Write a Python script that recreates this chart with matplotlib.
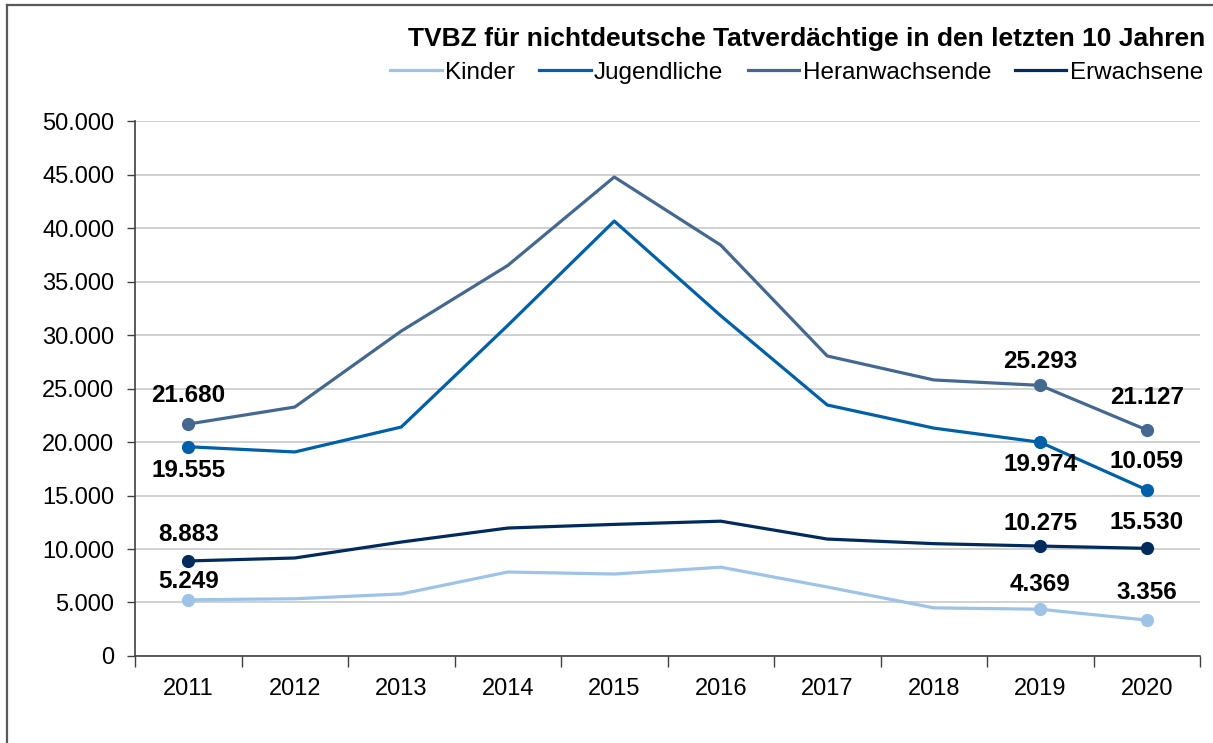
import matplotlib
matplotlib.use("Agg")
import matplotlib.pyplot as plt
from matplotlib.ticker import FuncFormatter, FixedLocator
from matplotlib.lines import Line2D

plt.rcParams['font.family'] = ['Liberation Sans', 'DejaVu Sans']

years = ["2011", "2012", "2013", "2014", "2015", "2016", "2017", "2018", "2019", "2020"]
kinder = [5249, 5350, 5800, 7850, 7660, 8300, 6450, 4500, 4369, 3356]
jugendliche = [19555, 19070, 21400, 30900, 40650, 31800, 23460, 21300, 19974, 15530]
heranwachsende = [21680, 23270, 30370, 36500, 44770, 38400, 28040, 25800, 25293, 21127]
erwachsene = [8883, 9160, 10650, 11960, 12300, 12600, 10930, 10500, 10275, 10059]

series_names = ["Kinder", "Jugendliche", "Heranwachsende", "Erwachsene"]
series_values = [kinder, jugendliche, heranwachsende, erwachsene]
colors = ["#9DC3E6", "#0060A8", "#44688F", "#002B5C"]

# data labels as printed in the chart: (series index, year index, text)
labels = [
    (2, 0, "21.680"), (1, 0, "19.555"), (3, 0, "8.883"), (0, 0, "5.249"),
    (2, 8, "25.293"), (1, 8, "19.974"), (3, 8, "10.275"), (0, 8, "4.369"),
    (2, 9, "21.127"), (1, 9, "10.059"), (3, 9, "15.530"), (0, 9, "3.356"),
]
# vertical label offsets in pixels (style, positive = above the point)
label_offsets_px = [29, -24, 26, 18, 24, -22, 23, 25, 32, 28, 26, 28]
marker_idx = [0, 8, 9]

fig = plt.figure(figsize=(12.13, 7.43), dpi=100)
# figure frame: left and top edges only visible
fig.add_artist(Line2D([0.0055, 0.0055], [0.0, 0.9935], transform=fig.transFigure,
                      color="#595959", linewidth=1.6))
fig.add_artist(Line2D([0.0055, 1.0], [0.9935, 0.9935], transform=fig.transFigure,
                      color="#595959", linewidth=1.6))

ax = fig.add_axes([0.1113, 0.1171, 0.878, 0.72])

x = list(range(len(years)))
handles = []
for name, vals, c in zip(series_names, series_values, colors):
    h, = ax.plot(x, vals, color=c, linewidth=2.3, label=name, solid_joinstyle="round", zorder=3)
    ax.plot([x[i] for i in marker_idx], [vals[i] for i in marker_idx], 'o', color=c,
            markersize=8.5, zorder=4)
    handles.append(h)

for (si, yi, txt), off_px in zip(labels, label_offsets_px):
    v = series_values[si][yi]
    ax.annotate(txt, (x[yi], v), xytext=(0, off_px * 72 / 100), textcoords="offset points",
                ha="center", va="center",
                fontsize=17.5, fontweight="bold", color="black", zorder=5)

ax.set_xlim(-0.5, len(years) - 0.5)
ax.set_ylim(0, 50000)
ax.set_yticks(range(0, 50001, 5000))
ax.yaxis.set_major_formatter(FuncFormatter(lambda v, p: f"{v:,.0f}".replace(",", ".")))
ax.set_xticks(x)
ax.set_xticklabels(years)
ax.xaxis.set_minor_locator(FixedLocator([i - 0.5 for i in range(len(years) + 1)]))
ax.tick_params(axis="x", which="major", length=0, pad=16, labelsize=17)
ax.tick_params(axis="x", which="minor", length=8, width=1, color="#404040", direction="out")
ax.tick_params(axis="y", length=6, width=1, color="#404040", labelsize=17, pad=9)

ax.grid(axis="y", color="#C8C8C8", linewidth=1.2, zorder=0)
ax.set_axisbelow(True)
for s in ["top", "right"]:
    ax.spines[s].set_visible(False)
for s in ["left", "bottom"]:
    ax.spines[s].set_color("#404040")
    ax.spines[s].set_linewidth(1.2)

fig.text(0.9935, 0.947, "TVBZ für nichtdeutsche Tatverdächtige in den letzten 10 Jahren",
         ha="right", va="center", fontsize=19, fontweight="bold")
fig.legend(handles=handles, labels=series_names, loc="center right",
           bbox_to_anchor=(1.0, 0.902), ncol=4, frameon=False, fontsize=17.5,
           handlelength=2.1, handletextpad=0.15, columnspacing=1.0, borderaxespad=0)

fig.savefig("out.png", dpi=100)
